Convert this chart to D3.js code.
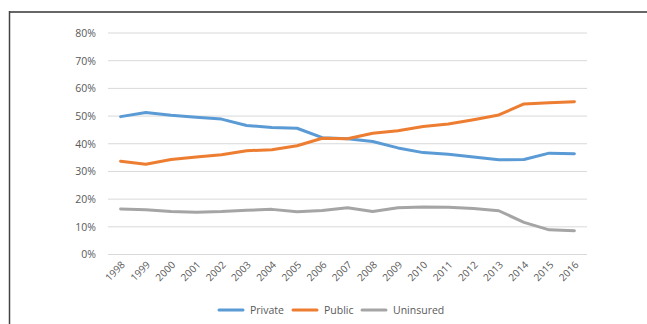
<!DOCTYPE html>
<html><head><meta charset="utf-8">
<script src="https://cdn.jsdelivr.net/npm/d3@7"></script>
<style>body{margin:0;background:#fff}svg{display:block}</style>
</head><body>
<svg id="c" width="647" height="324"></svg>
<script>
const years = ["1998","1999","2000","2001","2002","2003","2004","2005","2006","2007","2008","2009","2010","2011","2012","2013","2014","2015","2016"];
const privateVals = [49.8,51.3,50.3,49.6,48.9,46.6,45.9,45.6,42.2,41.8,40.8,38.5,36.8,36.2,35.2,34.2,34.3,36.6,36.4];
const publicVals = [33.7,32.6,34.3,35.2,36.0,37.5,37.8,39.3,42.0,41.8,43.8,44.7,46.2,47.1,48.7,50.4,54.4,54.8,55.2];
const uninsuredVals = [16.4,16.2,15.5,15.3,15.5,16.0,16.3,15.4,15.9,16.9,15.5,16.9,17.2,17.1,16.6,15.8,11.6,8.9,8.6];
const yTicks = [0,10,20,30,40,50,60,70,80];
const seriesNames = ["Private","Public","Uninsured"];
const colors = ["#5B9BD5","#ED7D31","#A5A5A5"];
const series = [privateVals, publicVals, uninsuredVals];

const svg = d3.select("#c");
const font = "'Open Sans', 'Noto Sans', sans-serif";
// frame
svg.append("line").attr("x1",9).attr("x2",647).attr("y1",12).attr("y2",12).attr("stroke","#666").attr("stroke-width",2);
svg.append("line").attr("x1",9.5).attr("x2",9.5).attr("y1",11).attr("y2",324).attr("stroke","#444").attr("stroke-width",1.5);

const x = d3.scaleBand().domain(years).range([108,587]);
const y = d3.scaleLinear().domain([0,80]).range([254.5,33]);

const g = svg.append("g");
yTicks.forEach(t=>{
  g.append("line").attr("x1",108).attr("x2",587).attr("y1",y(t)).attr("y2",y(t)).attr("stroke","#d9d9d9").attr("stroke-width",1);
});
const yAxis = d3.axisLeft(y).tickValues(yTicks).tickSize(0).tickPadding(0).tickFormat(d=>d+"%");
const ya = svg.append("g").attr("transform","translate(96,0)").call(yAxis);
ya.select(".domain").remove();
ya.selectAll("text").attr("fill","#595959").style("font-family",font).style("font-size","10.5px");

const xAxis = d3.axisBottom(x).tickSize(0).tickPadding(0);
const xa = svg.append("g").attr("transform","translate(0,254.5)").call(xAxis);
xa.select(".domain").remove();
xa.selectAll("text").attr("fill","#595959").style("font-family",font).style("font-size","10px")
  .attr("text-anchor","end").attr("dy",0).attr("y",0)
  .attr("transform","translate(5,11) rotate(-45)");

const line = d3.line().x((d,i)=>x(years[i])+x.bandwidth()/2).y(d=>y(d));
series.forEach((s,k)=>{
  svg.append("path").datum(s).attr("d",line).attr("fill","none").attr("stroke",colors[k]).attr("stroke-width",3).attr("stroke-linejoin","round").attr("stroke-linecap","round");
});

// legend
const legX = [219,293,362];
seriesNames.forEach((n,k)=>{
  svg.append("line").attr("x1",legX[k]).attr("x2",legX[k]+24).attr("y1",310).attr("y2",310).attr("stroke",colors[k]).attr("stroke-width",3).attr("stroke-linecap","round");
  svg.append("text").attr("x",legX[k]+31).attr("y",310).attr("dy","0.35em").text(n).attr("fill","#595959").style("font-family",font).style("font-size","10.5px");
});
</script>
</body></html>
